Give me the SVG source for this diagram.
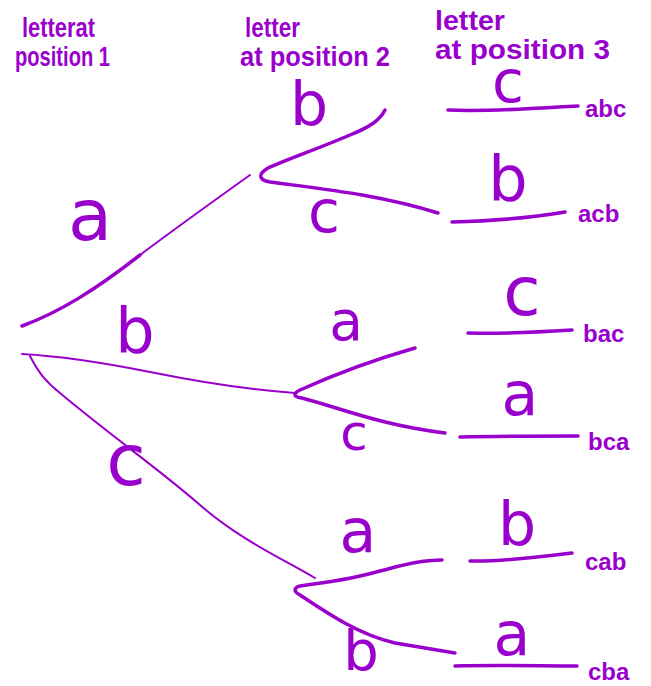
<svg xmlns="http://www.w3.org/2000/svg" width="651" height="686" viewBox="0 0 651 686">
<style>
.ln{fill:none;stroke:#9a00cc;stroke-linecap:round;stroke-linejoin:round;stroke-width:3.5}
.thin{stroke-width:2}
.lb{fill:#9a00cc;font-family:"DejaVu Sans","Liberation Sans",sans-serif;text-anchor:middle}
.hd{fill:#9a00cc;font-family:"Liberation Sans",sans-serif;font-size:27px;font-weight:bold}
.rs{fill:#9a00cc;font-family:"Liberation Sans",sans-serif;font-size:24px;font-weight:bold}
</style>
<rect width="651" height="686" fill="#fff"/>
<g id="headers">
<text class="hd" x="22" y="37" textLength="73" lengthAdjust="spacingAndGlyphs">letterat</text>
<text class="hd" x="15" y="66" textLength="95" lengthAdjust="spacingAndGlyphs">position 1</text>
<text class="hd" x="245" y="37" textLength="55" lengthAdjust="spacingAndGlyphs">letter</text>
<text class="hd" x="240" y="66" textLength="150" lengthAdjust="spacingAndGlyphs">at position 2</text>
<text class="hd" x="435" y="30" textLength="70" lengthAdjust="spacingAndGlyphs">letter</text>
<text class="hd" x="435" y="59" textLength="175" lengthAdjust="spacingAndGlyphs">at position 3</text>
</g>
<g id="connectors">
<path class="ln" d="M22,326 C60,312 95,290 140,255"/>
<path class="ln thin" d="M140,255 C180,225 215,200 250,175"/>
<path class="ln thin" d="M22,354 C60,356 100,362 150,372 C200,382 250,390 295,393"/>
<path class="ln thin" d="M30,356 C38,372 46,382 60,393 C110,435 160,470 200,505 C240,540 285,560 315,578"/>
<path class="ln" d="M385,110 C380,120 370,127 350,135 C320,148 285,160 268,168 C258,174 258,180 270,182 C330,190 380,195 438,213"/>
<path class="ln" d="M415,348 C380,358 340,372 300,390 C292,394 294,397 302,398 C340,408 380,425 445,433"/>
<path class="ln" d="M442,560 C420,560 400,566 380,571 C350,580 320,583 300,586 C293,588 294,592 300,595 C330,615 360,635 395,643 L455,653"/>
<path class="ln" d="M448,110 C490,112 540,108 578,106"/>
<path class="ln" d="M452,222 C490,221 530,218 565,212"/>
<path class="ln" d="M468,333 C500,334 540,332 572,330"/>
<path class="ln" d="M460,437 C500,436 540,436 578,436"/>
<path class="ln" d="M470,561 C500,562 540,557 572,553"/>
<path class="ln" d="M455,666 C500,665 540,666 577,666"/>
</g>
<g id="level1">
<text class="lb" x="90" y="240" font-size="72">a</text>
<text class="lb" x="135" y="352" font-size="62">b</text>
<text class="lb" x="126" y="485" font-size="72">c</text>
</g>
<g id="level2-a">
<text class="lb" x="309" y="125" font-size="60">b</text>
<text class="lb" x="324" y="232" font-size="58">c</text>
</g>
<g id="level2-b">
<text class="lb" x="346" y="340" font-size="55">a</text>
<text class="lb" x="354" y="450" font-size="50">c</text>
</g>
<g id="level2-c">
<text class="lb" x="358" y="552" font-size="60">a</text>
<text class="lb" x="361" y="670" font-size="56">b</text>
</g>
<g id="abc"><text class="lb" x="508" y="102" font-size="58">c</text><text class="rs" x="585" y="117">abc</text></g>
<g id="acb"><text class="lb" x="508" y="200" font-size="62">b</text><text class="rs" x="578" y="222">acb</text></g>
<g id="bac"><text class="lb" x="522" y="315" font-size="68">c</text><text class="rs" x="583" y="342">bac</text></g>
<g id="bca"><text class="lb" x="520" y="415" font-size="60">a</text><text class="rs" x="588" y="450">bca</text></g>
<g id="cab"><text class="lb" x="517" y="545" font-size="60">b</text><text class="rs" x="585" y="570">cab</text></g>
<g id="cba"><text class="lb" x="512" y="655" font-size="60">a</text><text class="rs" x="588" y="680">cba</text></g>
</svg>
